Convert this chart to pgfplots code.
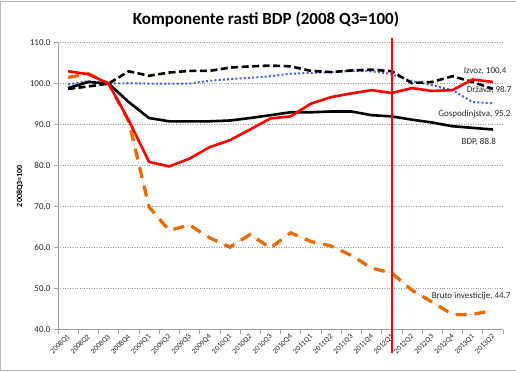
\documentclass[border=0pt]{standalone}
\usepackage{pgfplots}
\pgfplotsset{compat=1.18}
\usepackage{pgfplotstable}
\usepackage{fontspec}
\setmainfont{Carlito}
\definecolor{invorange}{RGB}{228,108,10}
\definecolor{invlight}{RGB}{245,180,130}
\definecolor{gospblue}{RGB}{65,100,225}
\definecolor{axgray}{RGB}{160,160,160}

\pgfplotstableread{
i izvoz drzava gosp bdp bruto
0 103.0 98.7 99.8 98.9 101.5
1 102.3 99.3 100.6 100.4 102.4
2 100.0 100.0 100.0 100.0 100.0
3 91.0 103.0 100.1 95.5 90.8
4 80.9 101.9 100.0 91.6 69.9
5 79.8 102.7 100.0 90.8 64.2
6 81.7 103.1 100.0 90.8 65.5
7 84.5 103.1 100.7 90.8 62.4
8 86.2 103.9 101.1 91.0 60.1
9 88.8 104.2 101.4 91.6 63.2
10 91.5 104.4 101.8 92.3 59.9
11 92.0 104.2 102.4 93.0 63.6
12 95.1 103.1 102.6 93.0 61.5
13 96.7 102.8 102.8 93.2 60.4
14 97.6 103.2 103.1 93.2 58.1
15 98.4 103.4 103.0 92.3 55.0
16 97.7 103.0 102.3 92.0 53.8
17 98.9 100.1 100.6 91.2 49.6
18 98.2 100.4 99.6 90.5 46.7
19 98.4 101.8 98.4 89.6 43.7
20 101.0 100.4 95.5 89.2 43.7
21 100.4 98.7 95.2 88.8 44.7
}\datatable

\begin{document}
\begin{tikzpicture}
\begin{axis}[
  scale only axis, width=445pt, height=287pt,
  xmin=-0.5, xmax=21.5, ymin=40, ymax=110,
  axis x line*=bottom, axis y line*=left,
  axis line style={axgray, line width=0.8pt},
  xtick={-0.5,0.5,...,21.5},
  x tick label as interval,
  xticklabels={2008Q1,2008Q2,2008Q3,2008Q4,2009Q1,2009Q2,2009Q3,2009Q4,2010Q1,2010Q2,2010Q3,2010Q4,2011Q1,2011Q2,2011Q3,2011Q4,2012Q1,2012Q2,2012Q3,2012Q4,2013Q1,2013Q2},
  xticklabel style={rotate=45, anchor=east, font=\fontsize{7.5}{8}\selectfont, text=black!85, inner sep=1pt, yshift=-2pt},
  ytick={40,50,...,110},
  yticklabel style={font=\fontsize{9}{10}\selectfont, text=black!85},
  /pgf/number format/.cd, fixed, fixed zerofill, precision=1, assume math mode=true,
  /pgfplots/.cd,
  tick align=outside, major tick length=4pt,
  tick style={axgray, line width=0.6pt},
  ymajorgrids, major grid style={gray!80, dotted, line width=0.6pt},
  ylabel={2008Q3=100},
  ylabel style={font=\fontsize{8}{9}\selectfont\bfseries},
  clip=false,
]
\addplot[invlight, line width=0.5pt, dash pattern=on 3pt off 1pt on 1pt off 1pt] table[x=i, y=bruto]{\datatable};
\addplot[invorange, line width=3.3pt, dash pattern=on 11pt off 8pt] table[x=i, y=bruto]{\datatable};
\addplot[gospblue, line width=2pt, dash pattern=on 2pt off 2.2pt] table[x=i, y=gosp]{\datatable};
\addplot[black, line width=2.6pt, dash pattern=on 7pt off 3.5pt] table[x=i, y=drzava]{\datatable};
\addplot[black, line width=2.6pt] table[x=i, y=bdp]{\datatable};
\addplot[red, line width=2.6pt] table[x=i, y=izvoz]{\datatable};
\addplot[red, line width=2pt] coordinates {(16,34.2) (16,111.2)};
\node[anchor=west, font=\fontsize{9}{10}\selectfont, text=black!85, inner sep=0pt] at (axis cs:19.55,103.0) {Izvoz, 100.4};
\node[anchor=west, font=\fontsize{9}{10}\selectfont, text=black!85, inner sep=0pt] at (axis cs:19.7,98.4) {Država, 98.7};
\node[anchor=west, font=\fontsize{9}{10}\selectfont, text=black!85, inner sep=0pt] at (axis cs:18.3,92.5) {Gospodinjstva, 95.2};
\node[anchor=west, font=\fontsize{9}{10}\selectfont, text=black!85, inner sep=0pt] at (axis cs:19.45,85.7) {BDP, 88.8};
\node[anchor=west, font=\fontsize{9}{10}\selectfont, text=black!85, inner sep=0pt] at (axis cs:17.97,48.1) {Bruto investicije, 44.7};
\coordinate (BL) at (rel axis cs:-0.1303,-0.1443);
\coordinate (TR) at (rel axis cs:1.0292,1.1484);
\coordinate (FBL) at (rel axis cs:-0.1288,-0.1407);
\coordinate (FTL) at (rel axis cs:-0.1288,1.1448);
\coordinate (FBR) at (rel axis cs:1.0292,-0.1407);
\coordinate (FTR) at (rel axis cs:1.0292,1.1448);
\node[font=\fontsize{17}{19}\selectfont\bfseries] at (rel axis cs:0.4674,1.0787) {Komponente rasti BDP (2008 Q3=100)};
\end{axis}
\draw[gray!55, line width=0.9pt] (FTR) -- (FTL) -- (FBL) -- (FBR);
\pgfresetboundingbox
\useasboundingbox (BL) rectangle (TR);
\end{tikzpicture}
\end{document}
